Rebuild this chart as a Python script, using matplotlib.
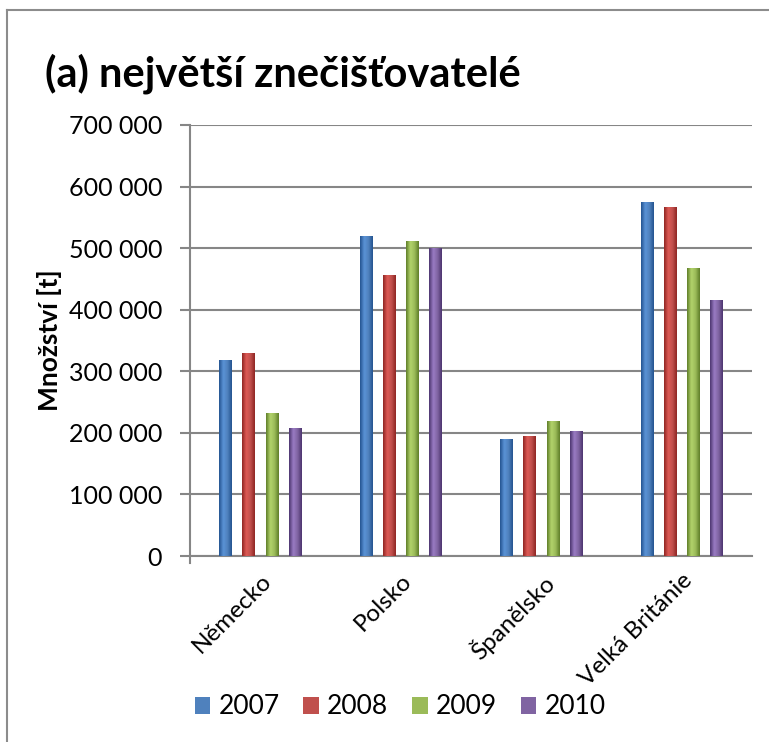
import numpy as np
import matplotlib
matplotlib.use("Agg")
import matplotlib.pyplot as plt
from matplotlib.colors import LinearSegmentedColormap
from matplotlib.lines import Line2D
from matplotlib.ticker import FuncFormatter

plt.rcParams['font.family'] = ['Lato', 'DejaVu Sans']

countries = ['Německo', 'Polsko', 'Španělsko', 'Velká Británie']
years = ['2007', '2008', '2009', '2010']
values = {
    '2007': [318000, 520000, 190000, 575000],
    '2008': [330000, 457000, 195000, 567000],
    '2009': [232000, 512000, 219000, 468000],
    '2010': [208000, 501000, 203000, 416000],
}
# dark edge, light middle for the cylinder-like shading
shades = {
    '2007': ('#23538f', '#5b93d6', '#4f81bd'),
    '2008': ('#8e2522', '#de5a55', '#c0504d'),
    '2009': ('#5e7d28', '#b3d46c', '#9bbb59'),
    '2010': ('#4b346e', '#9a7cc4', '#8064a2'),
}

fig = plt.figure(figsize=(7.69, 7.42), dpi=100)
ax = fig.add_axes([190 / 769, 1 - 556 / 742, (752 - 190) / 769, (556 - 125) / 742])

x = np.arange(len(countries))
step = 0.166
width = 0.089

grad = np.linspace(0, 1, 64)
grad = np.vstack([grad, grad])
for i, yr in enumerate(years):
    dark, light, base = shades[yr]
    bars = ax.bar(x + (i - 1.5) * step, values[yr], width, color=base,
                  edgecolor='none', zorder=3, label=yr)
    cmap = LinearSegmentedColormap.from_list(yr, [dark, light, base, dark])
    for b in bars:
        bx, bw, bh = b.get_x(), b.get_width(), b.get_height()
        im = ax.imshow(grad, extent=[bx, bx + bw, 0, bh], aspect='auto',
                       cmap=cmap, zorder=4, interpolation='bicubic')
        im.set_clip_path(b)
ax.set_xlim(-0.5, len(countries) - 0.5)
ax.set_ylim(0, 700000)

ax.set_yticks(np.arange(0, 700001, 100000))
ax.yaxis.set_major_formatter(FuncFormatter(lambda v, p: f'{int(v):,}'.replace(',', ' ')))
ax.grid(axis='y', color='#868686', linewidth=1.5, zorder=0)
ax.tick_params(axis='y', length=7, width=1.5, color='#868686', labelsize=18, pad=13)
ax.set_xticks(x)
ax.set_xticklabels(countries, rotation=45, ha='right', rotation_mode='anchor', fontsize=17.5)
ax.tick_params(axis='x', length=0, pad=10)

for s in ['top', 'right']:
    ax.spines[s].set_visible(False)
ax.spines['left'].set_color('#868686')
ax.spines['left'].set_linewidth(1.5)
ax.spines['left'].set_bounds(-12000, 700000)
ax.spines['bottom'].set_color('#868686')
ax.spines['bottom'].set_linewidth(1.5)

ax.set_ylabel('Množství [t]', fontsize=19, fontweight='bold')
ax.yaxis.set_label_coords(-0.228, 0.5)

fig.text(45 / 769, 1 - 74 / 742, '(a) největší znečišťovatelé', fontsize=30,
         fontweight='bold', va='center', ha='left')

leg = fig.legend(loc='center', bbox_to_anchor=(400 / 769, 1 - 707 / 742), ncol=4,
                 frameon=False, fontsize=19, handlelength=0.6, handleheight=0.6,
                 handletextpad=0.3, columnspacing=0.9)

# outer chart frame
fig.add_artist(Line2D([7 / 769, 7 / 769], [0, 1 - 10 / 742], color='#8c8c8c', lw=1.5))
fig.add_artist(Line2D([7 / 769, 1], [1 - 10 / 742, 1 - 10 / 742], color='#8c8c8c', lw=1.5))

fig.savefig('out.png', dpi=100)
